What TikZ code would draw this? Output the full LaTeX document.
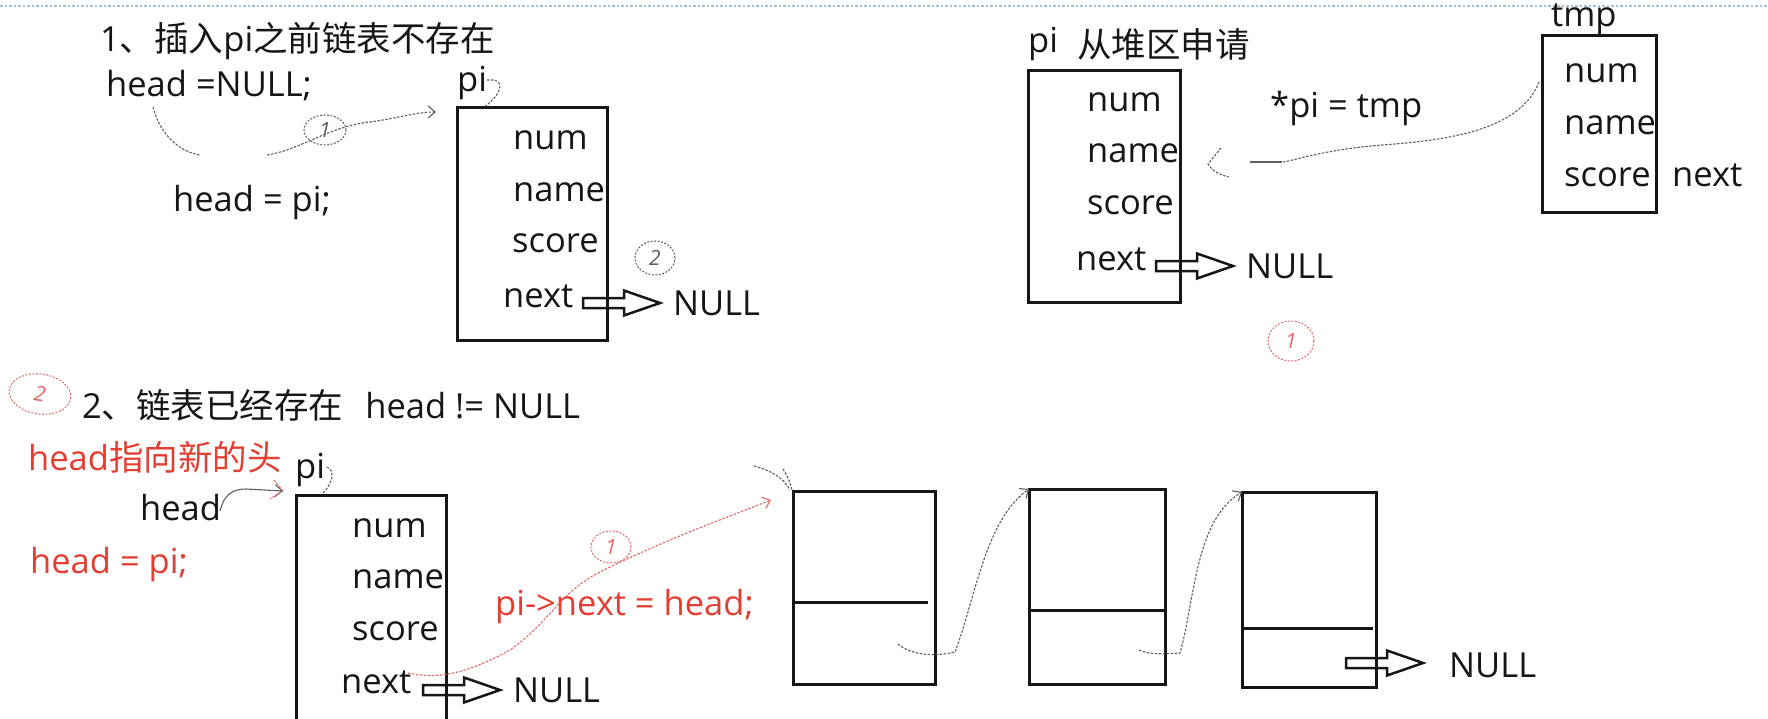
\documentclass[tikz,border=0pt]{standalone}
\usepackage{fontspec}
\setmainfont{Open Sans}
\newfontfamily\cjk{Noto Sans CJK SC}
\usetikzlibrary{arrows.meta,shapes.geometric}
\definecolor{ink}{RGB}{22,22,22}
\definecolor{hred}{RGB}{226,62,50}
\definecolor{pengray}{RGB}{95,95,95}
\definecolor{penred}{RGB}{225,105,105}
\definecolor{topblue}{RGB}{165,192,212}
\begin{document}
\begin{tikzpicture}[x=1pt,y=-1pt,
  txt/.style={font=\fontsize{34.5}{40}\selectfont, text=ink, inner sep=0pt, anchor=base west},
  rtxt/.style={txt, text=hred},
  box/.style={draw=ink, line width=3pt, inner sep=0pt, outer sep=0pt, anchor=north west},
  div/.style={draw=ink, line width=3pt},
  harrow/.style={draw=ink, line width=2.5pt, line join=miter},
  pen/.style={draw=pengray, line width=1.1pt, dash pattern=on 2.5pt off 1.5pt},
  rpen/.style={pen, draw=penred},
  tip/.style={-{Straight Barb[length=7pt,width=12pt]}},
  circmark/.style={ellipse, draw=pengray, line width=1pt, dash pattern=on 2pt off 1.5pt, inner sep=0pt, font=\fontsize{21}{21}\selectfont\itshape, text=pengray},
  rcircmark/.style={circmark, draw=penred, text=penred},
  topline/.style={draw=topblue, line width=1.6pt, dash pattern=on 2.5pt off 2pt}
]
\clip (0,0) rectangle (1768,719);
\fill[white] (0,0) rectangle (1768,719);

% top dotted line
\coordinate (tl) at (0,6);
\coordinate (tr) at (1768,6);
\draw[topline] (tl) -- (tr);

% hollow arrow macro
\newcommand{\hollowarrow}[3]{%
  \coordinate (#1) at (#2,#3);
  \draw[harrow] (#1) ++(0,-5) -- ++(41,0) -- ++(0,-7.5) -- ++(36,12.5) -- ++(-36,12.5) -- ++(0,-7.5) -- ++(-41,0) -- cycle;}

%% ---------- Section 1 ----------
\node[txt] (t1) at (100,52) {1{\cjk 、插入}pi{\cjk 之前链表不存在}};
\node[txt] (hn1) at (106,97) {head =NULL;};
\node[txt] (pi1) at (457,92) {pi};
\node[txt] (hp1) at (173,212) {head = pi;};
\node[box, minimum width=150pt, minimum height=232pt] (b1) at (457,108) {};
\node[txt] (b1num) at (513,150) {num};
\node[txt] (b1name) at (513,202) {name};
\node[txt] (b1score) at (512,253) {score};
\node[txt] (b1next) at (503,307) {next};
\hollowarrow{a1}{583}{303}
\node[txt] (null1) at (673,315) {NULL};
\node[circmark, minimum width=42pt, minimum height=30pt] (m1) at (325,130) {1};
\node[circmark, minimum width=40pt, minimum height=34pt] (m2) at (655,258) {2};
\coordinate (c1a) at (153,107);
\coordinate (c1b) at (200,155);
\coordinate (c1c) at (267,155);
\coordinate (c1d) at (436,112);
\draw[pen] (c1a) .. controls (160,135) and (180,152) .. (c1b);
\draw[pen, tip] (c1c) .. controls (300,150) and (330,126) .. (370,122) .. controls (400,118) and (415,112) .. (c1d);
\draw[pen] (487,80) -- (494,80) .. controls (505,82) and (500,96) .. (484,107);

%% ---------- Top right ----------
\node[txt] (pi2) at (1028,53) {pi};
\node[txt] (heap) at (1077,58) {\cjk 从堆区申请};
\node[box, minimum width=152pt, minimum height=231pt] (b2) at (1028,71) {};
\node[txt] (b2num) at (1087,112) {num};
\node[txt] (b2name) at (1087,163) {name};
\node[txt] (b2score) at (1087,215) {score};
\node[txt] (b2next) at (1076,270) {next};
\hollowarrow{a2}{1156}{266}
\node[txt] (null2) at (1246,278) {NULL};
\node[txt] (assign) at (1270,118) {*pi = tmp};
\node[txt] (tmp) at (1551,27) {tmp};
\node[box, minimum width=114pt, minimum height=177pt] (bt) at (1542,36) {};
\node[txt] (btnum) at (1564,83) {num};
\node[txt] (btname) at (1564,135) {name};
\node[txt] (btscore) at (1564,187) {score};
\node[txt] (btnext) at (1672,187) {next};
\coordinate (c2a) at (1539,82);
\coordinate (c2b) at (1250,162);
\draw[pen] (c2a) .. controls (1520,130) and (1450,140) .. (1382,145) .. controls (1320,150) and (1290,162) .. (1282,162);
\draw[draw=pengray, line width=1.1pt] (1282,162) -- (c2b);
\draw[pen] (1221,148) -- (1208,164) .. controls (1212,171) and (1220,175) .. (1229,177);
\node[rcircmark, minimum width=46pt, minimum height=40pt] (m3) at (1291,341) {1};

%% ---------- Section 2 ----------
\node[rcircmark, minimum width=62pt, minimum height=40pt, rotate=-8] (m4) at (40,394) {2};
\node[txt] (t2) at (82,418) {2{\cjk 、链表已经存在}\hspace{22pt}head != NULL};
\node[rtxt] (hnew) at (28,470) {head{\cjk 指向新的头}};
\node[txt] (pi3) at (295,478) {pi};
\node[txt] (head3) at (140,520) {head};
\node[rtxt] (hp3) at (30,573) {head = pi;};
\node[box, minimum width=150pt, minimum height=260pt] (b3) at (296,495) {};
\node[txt] (b3num) at (352,537) {num};
\node[txt] (b3name) at (352,588) {name};
\node[txt] (b3score) at (352,640) {score};
\node[txt] (b3next) at (341,693) {next};
\hollowarrow{a3}{423}{690}
\node[txt] (null3) at (513,702) {NULL};
\node[rtxt] (pinext) at (495,615) {pi->next = head;};
\node[rcircmark, minimum width=40pt, minimum height=32pt] (m5) at (611,547) {1};
\draw[pen] (327,467) .. controls (336,470) and (332,485) .. (322,494);
% head -> pi
\coordinate (h3a) at (220,511);
\coordinate (h3b) at (283,491);
\draw[draw=pengray, line width=1.1pt, tip] (h3a) .. controls (224,495) and (232,489) .. (246,489) -- (h3b);
\draw[rpen] (274,480) -- (283,491) -- (270,499);

% list boxes
\node[box, minimum width=142pt, minimum height=193pt] (bA) at (793,491) {};
\draw[div] (793,602) -- (928,602);
\node[box, minimum width=136pt, minimum height=195pt] (bB) at (1029,489) {};
\draw[div] (1029,610) -- (1165,610);
\node[box, minimum width=134pt, minimum height=195pt] (bC) at (1242,492) {};
\draw[div] (1242,628) -- (1373,628);
\hollowarrow{a4}{1346}{663}
\node[txt] (null4) at (1449,677) {NULL};

% red pi->next connector
\coordinate (r1a) at (408,673);
\coordinate (r1b) at (771,500);
\draw[rpen, tip] (r1a) .. controls (440,680) and (470,672) .. (510,650) .. controls (550,622) and (560,592) .. (600,572) .. controls (660,542) and (720,520) .. (r1b);
\draw[pen] (754,466) .. controls (770,470) and (784,478) .. (790,490);
\draw[pen] (783,469) .. controls (787,475) and (790,482) .. (792,490);

% list connectors
\coordinate (lA) at (898,644);
\coordinate (lB) at (1139,650);
\draw[pen, tip] (lA) .. controls (910,655) and (935,657) .. (955,652) .. controls (975,600) and (985,520) .. (bB.north west);
\draw[pen, tip] (lB) .. controls (1150,655) and (1165,654) .. (1180,653) .. controls (1195,600) and (1195,520) .. (bC.north west);
\end{tikzpicture}
\end{document}
